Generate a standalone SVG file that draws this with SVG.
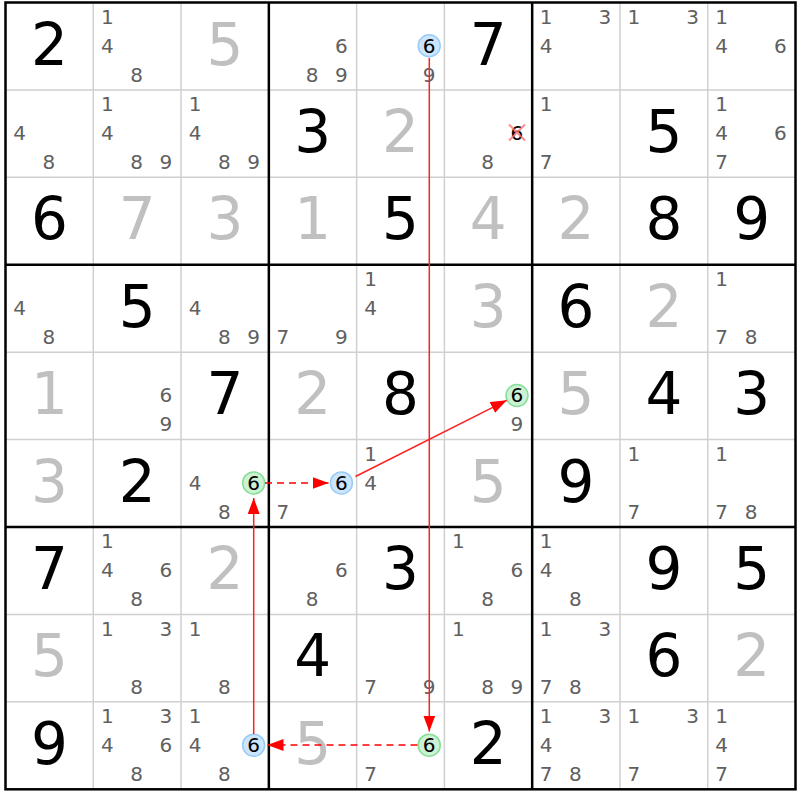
<svg xmlns="http://www.w3.org/2000/svg" width="800" height="800" viewBox="0 0 800 800">
<style>
text{font-family:"DejaVu Sans","Liberation Sans",sans-serif;text-anchor:middle}
.g{font-size:58px;fill:#000}
.s{font-size:58px;fill:#c0c0c0}
.c{font-size:20px;fill:#606060}
.k{font-size:20px;fill:#000}
.hb{fill:#cce5ff;stroke:#99ccf5;stroke-width:1.5}
.hg{fill:#ccf2d4;stroke:#88dd99;stroke-width:1.5}
.thin{stroke:#d0d0d0;stroke-width:1.5;fill:none}
.thick{stroke:#000;stroke-width:2.5;fill:none}
.ar{stroke:#ff2020;stroke-width:1.5;fill:none}
.dash{stroke:#ff0000;stroke-width:1.6;stroke-dasharray:7,5;fill:none}
.x{stroke:#ff7070;stroke-width:2;stroke-opacity:0.8}
</style>
<defs>
<marker id="ah" markerUnits="userSpaceOnUse" markerWidth="16" markerHeight="12" viewBox="0 0 16 12" refX="16" refY="6" orient="auto">
<path d="M0,0 L16,6 L0,12 z" fill="#ff0000"/>
</marker>
</defs>
<rect x="0" y="0" width="800" height="800" fill="#fff"/>
<g id="grid">
<path class="thin" d="M93.28,2.5V789.3M181.06,2.5V789.3M356.62,2.5V789.3M444.4,2.5V789.3M619.96,2.5V789.3M707.74,2.5V789.3M5.5,89.92H795.5M5.5,177.34H795.5M5.5,352.18H795.5M5.5,439.6H795.5M5.5,614.44H795.5M5.5,701.86H795.5"/>
<path class="thick" d="M268.84,2.5V789.3M532.18,2.5V789.3M5.5,264.76H795.5M5.5,527.02H795.5"/>
<rect class="thick" x="5.5" y="2.5" width="790" height="786.8"/>
</g>
<g id="cells">
<!-- row 0 -->
<g id="r0c0" transform="translate(5.5,2.5)"><text class="g" x="43.9" y="62">2</text></g>
<g id="r0c1" transform="translate(93.28,2.5)"><text class="c" x="14" y="21.3">1</text><text class="c" x="14" y="50.3">4</text><text class="c" x="43.3" y="79.3">8</text></g>
<g id="r0c2" transform="translate(181.06,2.5)"><text class="s" x="43.9" y="62">5</text></g>
<g id="r0c3" transform="translate(268.84,2.5)"><text class="c" x="72.6" y="50.3">6</text><text class="c" x="43.3" y="79.3">8</text><text class="c" x="72.6" y="79.3">9</text></g>
<g id="r0c4" transform="translate(356.62,2.5)"><circle class="hb" cx="72.6" cy="43.3" r="11"/><text class="k" x="72.6" y="50.3">6</text><text class="c" x="72.6" y="79.3">9</text></g>
<g id="r0c5" transform="translate(444.4,2.5)"><text class="g" x="43.9" y="62">7</text></g>
<g id="r0c6" transform="translate(532.18,2.5)"><text class="c" x="14" y="21.3">1</text><text class="c" x="72.6" y="21.3">3</text><text class="c" x="14" y="50.3">4</text></g>
<g id="r0c7" transform="translate(619.96,2.5)"><text class="c" x="14" y="21.3">1</text><text class="c" x="72.6" y="21.3">3</text></g>
<g id="r0c8" transform="translate(707.74,2.5)"><text class="c" x="14" y="21.3">1</text><text class="c" x="14" y="50.3">4</text><text class="c" x="72.6" y="50.3">6</text></g>
<!-- row 1 -->
<g id="r1c0" transform="translate(5.5,89.92)"><text class="c" x="14" y="50.3">4</text><text class="c" x="43.3" y="79.3">8</text></g>
<g id="r1c1" transform="translate(93.28,89.92)"><text class="c" x="14" y="21.3">1</text><text class="c" x="14" y="50.3">4</text><text class="c" x="43.3" y="79.3">8</text><text class="c" x="72.6" y="79.3">9</text></g>
<g id="r1c2" transform="translate(181.06,89.92)"><text class="c" x="14" y="21.3">1</text><text class="c" x="14" y="50.3">4</text><text class="c" x="43.3" y="79.3">8</text><text class="c" x="72.6" y="79.3">9</text></g>
<g id="r1c3" transform="translate(268.84,89.92)"><text class="g" x="43.9" y="62">3</text></g>
<g id="r1c4" transform="translate(356.62,89.92)"><text class="s" x="43.9" y="62">2</text></g>
<g id="r1c5" transform="translate(444.4,89.92)"><text class="k" x="72.6" y="50.3">6</text><path class="x" d="M64.6,34.5L80.6,50.5M80.6,34.5L64.6,50.5"/><text class="c" x="43.3" y="79.3">8</text></g>
<g id="r1c6" transform="translate(532.18,89.92)"><text class="c" x="14" y="21.3">1</text><text class="c" x="14" y="79.3">7</text></g>
<g id="r1c7" transform="translate(619.96,89.92)"><text class="g" x="43.9" y="62">5</text></g>
<g id="r1c8" transform="translate(707.74,89.92)"><text class="c" x="14" y="21.3">1</text><text class="c" x="14" y="50.3">4</text><text class="c" x="72.6" y="50.3">6</text><text class="c" x="14" y="79.3">7</text></g>
<!-- row 2 -->
<g id="r2c0" transform="translate(5.5,177.34)"><text class="g" x="43.9" y="62">6</text></g>
<g id="r2c1" transform="translate(93.28,177.34)"><text class="s" x="43.9" y="62">7</text></g>
<g id="r2c2" transform="translate(181.06,177.34)"><text class="s" x="43.9" y="62">3</text></g>
<g id="r2c3" transform="translate(268.84,177.34)"><text class="s" x="43.9" y="62">1</text></g>
<g id="r2c4" transform="translate(356.62,177.34)"><text class="g" x="43.9" y="62">5</text></g>
<g id="r2c5" transform="translate(444.4,177.34)"><text class="s" x="43.9" y="62">4</text></g>
<g id="r2c6" transform="translate(532.18,177.34)"><text class="s" x="43.9" y="62">2</text></g>
<g id="r2c7" transform="translate(619.96,177.34)"><text class="g" x="43.9" y="62">8</text></g>
<g id="r2c8" transform="translate(707.74,177.34)"><text class="g" x="43.9" y="62">9</text></g>
<!-- row 3 -->
<g id="r3c0" transform="translate(5.5,264.76)"><text class="c" x="14" y="50.3">4</text><text class="c" x="43.3" y="79.3">8</text></g>
<g id="r3c1" transform="translate(93.28,264.76)"><text class="g" x="43.9" y="62">5</text></g>
<g id="r3c2" transform="translate(181.06,264.76)"><text class="c" x="14" y="50.3">4</text><text class="c" x="43.3" y="79.3">8</text><text class="c" x="72.6" y="79.3">9</text></g>
<g id="r3c3" transform="translate(268.84,264.76)"><text class="c" x="14" y="79.3">7</text><text class="c" x="72.6" y="79.3">9</text></g>
<g id="r3c4" transform="translate(356.62,264.76)"><text class="c" x="14" y="21.3">1</text><text class="c" x="14" y="50.3">4</text></g>
<g id="r3c5" transform="translate(444.4,264.76)"><text class="s" x="43.9" y="62">3</text></g>
<g id="r3c6" transform="translate(532.18,264.76)"><text class="g" x="43.9" y="62">6</text></g>
<g id="r3c7" transform="translate(619.96,264.76)"><text class="s" x="43.9" y="62">2</text></g>
<g id="r3c8" transform="translate(707.74,264.76)"><text class="c" x="14" y="21.3">1</text><text class="c" x="14" y="79.3">7</text><text class="c" x="43.3" y="79.3">8</text></g>
<!-- row 4 -->
<g id="r4c0" transform="translate(5.5,352.18)"><text class="s" x="43.9" y="62">1</text></g>
<g id="r4c1" transform="translate(93.28,352.18)"><text class="c" x="72.6" y="50.3">6</text><text class="c" x="72.6" y="79.3">9</text></g>
<g id="r4c2" transform="translate(181.06,352.18)"><text class="g" x="43.9" y="62">7</text></g>
<g id="r4c3" transform="translate(268.84,352.18)"><text class="s" x="43.9" y="62">2</text></g>
<g id="r4c4" transform="translate(356.62,352.18)"><text class="g" x="43.9" y="62">8</text></g>
<g id="r4c5" transform="translate(444.4,352.18)"><circle class="hg" cx="72.6" cy="43.3" r="11"/><text class="k" x="72.6" y="50.3">6</text><text class="c" x="72.6" y="79.3">9</text></g>
<g id="r4c6" transform="translate(532.18,352.18)"><text class="s" x="43.9" y="62">5</text></g>
<g id="r4c7" transform="translate(619.96,352.18)"><text class="g" x="43.9" y="62">4</text></g>
<g id="r4c8" transform="translate(707.74,352.18)"><text class="g" x="43.9" y="62">3</text></g>
<!-- row 5 -->
<g id="r5c0" transform="translate(5.5,439.6)"><text class="s" x="43.9" y="62">3</text></g>
<g id="r5c1" transform="translate(93.28,439.6)"><text class="g" x="43.9" y="62">2</text></g>
<g id="r5c2" transform="translate(181.06,439.6)"><text class="c" x="14" y="50.3">4</text><circle class="hg" cx="72.6" cy="43.3" r="11"/><text class="k" x="72.6" y="50.3">6</text><text class="c" x="43.3" y="79.3">8</text></g>
<g id="r5c3" transform="translate(268.84,439.6)"><circle class="hb" cx="72.6" cy="43.3" r="11"/><text class="k" x="72.6" y="50.3">6</text><text class="c" x="14" y="79.3">7</text></g>
<g id="r5c4" transform="translate(356.62,439.6)"><text class="c" x="14" y="21.3">1</text><text class="c" x="14" y="50.3">4</text></g>
<g id="r5c5" transform="translate(444.4,439.6)"><text class="s" x="43.9" y="62">5</text></g>
<g id="r5c6" transform="translate(532.18,439.6)"><text class="g" x="43.9" y="62">9</text></g>
<g id="r5c7" transform="translate(619.96,439.6)"><text class="c" x="14" y="21.3">1</text><text class="c" x="14" y="79.3">7</text></g>
<g id="r5c8" transform="translate(707.74,439.6)"><text class="c" x="14" y="21.3">1</text><text class="c" x="14" y="79.3">7</text><text class="c" x="43.3" y="79.3">8</text></g>
<!-- row 6 -->
<g id="r6c0" transform="translate(5.5,527.02)"><text class="g" x="43.9" y="62">7</text></g>
<g id="r6c1" transform="translate(93.28,527.02)"><text class="c" x="14" y="21.3">1</text><text class="c" x="14" y="50.3">4</text><text class="c" x="72.6" y="50.3">6</text><text class="c" x="43.3" y="79.3">8</text></g>
<g id="r6c2" transform="translate(181.06,527.02)"><text class="s" x="43.9" y="62">2</text></g>
<g id="r6c3" transform="translate(268.84,527.02)"><text class="c" x="72.6" y="50.3">6</text><text class="c" x="43.3" y="79.3">8</text></g>
<g id="r6c4" transform="translate(356.62,527.02)"><text class="g" x="43.9" y="62">3</text></g>
<g id="r6c5" transform="translate(444.4,527.02)"><text class="c" x="14" y="21.3">1</text><text class="c" x="72.6" y="50.3">6</text><text class="c" x="43.3" y="79.3">8</text></g>
<g id="r6c6" transform="translate(532.18,527.02)"><text class="c" x="14" y="21.3">1</text><text class="c" x="14" y="50.3">4</text><text class="c" x="43.3" y="79.3">8</text></g>
<g id="r6c7" transform="translate(619.96,527.02)"><text class="g" x="43.9" y="62">9</text></g>
<g id="r6c8" transform="translate(707.74,527.02)"><text class="g" x="43.9" y="62">5</text></g>
<!-- row 7 -->
<g id="r7c0" transform="translate(5.5,614.44)"><text class="s" x="43.9" y="62">5</text></g>
<g id="r7c1" transform="translate(93.28,614.44)"><text class="c" x="14" y="21.3">1</text><text class="c" x="72.6" y="21.3">3</text><text class="c" x="43.3" y="79.3">8</text></g>
<g id="r7c2" transform="translate(181.06,614.44)"><text class="c" x="14" y="21.3">1</text><text class="c" x="43.3" y="79.3">8</text></g>
<g id="r7c3" transform="translate(268.84,614.44)"><text class="g" x="43.9" y="62">4</text></g>
<g id="r7c4" transform="translate(356.62,614.44)"><text class="c" x="14" y="79.3">7</text><text class="c" x="72.6" y="79.3">9</text></g>
<g id="r7c5" transform="translate(444.4,614.44)"><text class="c" x="14" y="21.3">1</text><text class="c" x="43.3" y="79.3">8</text><text class="c" x="72.6" y="79.3">9</text></g>
<g id="r7c6" transform="translate(532.18,614.44)"><text class="c" x="14" y="21.3">1</text><text class="c" x="72.6" y="21.3">3</text><text class="c" x="14" y="79.3">7</text><text class="c" x="43.3" y="79.3">8</text></g>
<g id="r7c7" transform="translate(619.96,614.44)"><text class="g" x="43.9" y="62">6</text></g>
<g id="r7c8" transform="translate(707.74,614.44)"><text class="s" x="43.9" y="62">2</text></g>
<!-- row 8 -->
<g id="r8c0" transform="translate(5.5,701.86)"><text class="g" x="43.9" y="62">9</text></g>
<g id="r8c1" transform="translate(93.28,701.86)"><text class="c" x="14" y="21.3">1</text><text class="c" x="72.6" y="21.3">3</text><text class="c" x="14" y="50.3">4</text><text class="c" x="72.6" y="50.3">6</text><text class="c" x="43.3" y="79.3">8</text></g>
<g id="r8c2" transform="translate(181.06,701.86)"><text class="c" x="14" y="21.3">1</text><text class="c" x="14" y="50.3">4</text><circle class="hb" cx="72.6" cy="43.3" r="11"/><text class="k" x="72.6" y="50.3">6</text><text class="c" x="43.3" y="79.3">8</text></g>
<g id="r8c3" transform="translate(268.84,701.86)"><text class="s" x="43.9" y="62">5</text></g>
<g id="r8c4" transform="translate(356.62,701.86)"><circle class="hg" cx="72.6" cy="43.3" r="11"/><text class="k" x="72.6" y="50.3">6</text><text class="c" x="14" y="79.3">7</text></g>
<g id="r8c5" transform="translate(444.4,701.86)"><text class="g" x="43.9" y="62">2</text></g>
<g id="r8c6" transform="translate(532.18,701.86)"><text class="c" x="14" y="21.3">1</text><text class="c" x="72.6" y="21.3">3</text><text class="c" x="14" y="50.3">4</text><text class="c" x="14" y="79.3">7</text><text class="c" x="43.3" y="79.3">8</text></g>
<g id="r8c7" transform="translate(619.96,701.86)"><text class="c" x="14" y="21.3">1</text><text class="c" x="72.6" y="21.3">3</text><text class="c" x="14" y="79.3">7</text></g>
<g id="r8c8" transform="translate(707.74,701.86)"><text class="c" x="14" y="21.3">1</text><text class="c" x="14" y="50.3">4</text><text class="c" x="14" y="79.3">7</text></g>
</g>
<g id="connectors">
<path class="ar" d="M429.3,58 L429.3,731.5" marker-end="url(#ah)"/>
<path class="dash" d="M417.5,745 L267.5,745" marker-end="url(#ah)"/>
<path class="ar" d="M253.7,734 L253.7,498" marker-end="url(#ah)"/>
<path class="dash" d="M265,483 L328.5,483" marker-end="url(#ah)"/>
<path class="ar" d="M355.5,476.5 L506.7,400.3" marker-end="url(#ah)"/>
</g>
</svg>
